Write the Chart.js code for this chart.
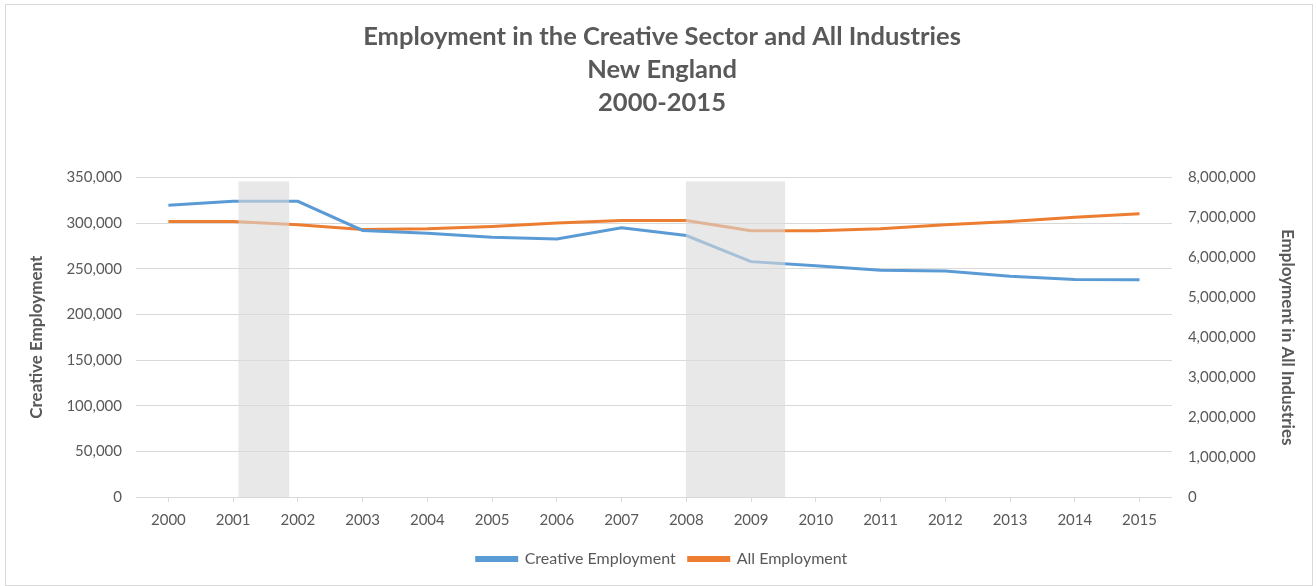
<!DOCTYPE html>
<html>
<head>
<meta charset="utf-8">
<script src="https://cdn.jsdelivr.net/npm/chart.js@4/dist/chart.umd.min.js"></script>
<style>
  body { margin: 0; background: #fff; }
  #wrap { position: absolute; left: 5px; top: 4px; width: 1306px; height: 580px; border: 1px solid #d9d9d9; }
</style>
</head>
<body>
<div id="wrap"><canvas id="chart"></canvas></div>
<script>
// data
const years = ['2000','2001','2002','2003','2004','2005','2006','2007','2008','2009','2010','2011','2012','2013','2014','2015'];
const creative = [319600, 323800, 323800, 292000, 289000, 284500, 282500, 294800, 286400, 257800, 253400, 248300, 247500, 241800, 238200, 238000];
const allEmp = [6900000, 6900000, 6815000, 6700000, 6715000, 6770000, 6860000, 6920000, 6920000, 6665000, 6665000, 6715000, 6815000, 6895000, 7005000, 7090000];
// recessions (fractional years)
const recStart = [2001.08, 2007.99];
const recEnd = [2001.87, 2009.53];
const shadeTop = 7900000;

const shade = [];
recStart.forEach((s, i) => {
  shade.push({ x: s, y: shadeTop });
  shade.push({ x: recEnd[i], y: shadeTop });
  if (i < recStart.length - 1) shade.push({ x: (recEnd[i] + recStart[i + 1]) / 2, y: null });
});

const grey = '#595959';
const font = 'Lato, "Open Sans", sans-serif';
const fmt = v => Number(v).toLocaleString('en-US');

new Chart(document.getElementById('chart'), {
  type: 'line',
  data: {
    labels: years,
    datasets: [
      {
        label: 'Recession',
        data: shade,
        xAxisID: 'xr',
        yAxisID: 'y2',
        fill: 'origin',
        backgroundColor: 'rgba(217,217,217,0.6)',
        borderColor: 'rgba(0,0,0,0)',
        borderWidth: 0,
        pointRadius: 0,
        spanGaps: false,
        order: 0
      },
      {
        label: 'Creative Employment',
        data: creative,
        yAxisID: 'y',
        borderColor: '#5b9bd5',
        backgroundColor: '#5b9bd5',
        borderWidth: 3,
        pointRadius: 0,
        tension: 0,
        order: 1
      },
      {
        label: 'All Employment',
        data: allEmp,
        yAxisID: 'y2',
        borderColor: '#ed7d31',
        backgroundColor: '#ed7d31',
        borderWidth: 3,
        pointRadius: 0,
        tension: 0,
        order: 1
      }
    ]
  },
  options: {
    responsive: true,
    maintainAspectRatio: false,
    animation: false,
    layout: { padding: { left: 14, right: 8, top: 8, bottom: 8 } },
    plugins: {
      title: {
        display: true,
        text: ['Employment in the Creative Sector and All Industries', 'New England', '2000-2015'],
        color: grey,
        font: { family: font, size: 25.5, weight: 'bold', lineHeight: 1.3 },
        padding: { top: 7, bottom: 58 }
      },
      legend: {
        position: 'bottom',
        labels: {
          filter: item => item.text !== 'Recession',
          color: grey,
          font: { family: font, size: 16 },
          boxWidth: 40,
          boxHeight: 3,
          padding: 13
        }
      },
      tooltip: { enabled: false }
    },
    scales: {
      x: {
        type: 'category',
        offset: true,
        grid: { drawOnChartArea: false, color: '#d9d9d9', tickLength: 5 },
        border: { color: '#d9d9d9' },
        ticks: { color: grey, font: { family: font, size: 15 }, padding: 9, maxRotation: 0 }
      },
      xr: {
        type: 'linear',
        min: 1999.5,
        max: 2015.5,
        display: false
      },
      y: {
        position: 'left',
        min: 0,
        max: 350000,
        ticks: { stepSize: 50000, color: grey, font: { family: font, size: 15 }, padding: 14, callback: fmt },
        grid: { color: '#d9d9d9', drawTicks: false },
        border: { display: false },
        title: { display: true, text: 'Creative Employment', color: grey, font: { family: font, size: 17, weight: 'bold' }, padding: 6 }
      },
      y2: {
        position: 'right',
        min: 0,
        max: 8000000,
        ticks: { stepSize: 1000000, color: grey, font: { family: font, size: 15 }, padding: 16, callback: fmt },
        grid: { drawOnChartArea: false, drawTicks: false },
        border: { display: false },
        title: { display: true, text: 'Employment in All Industries', color: grey, font: { family: font, size: 17, weight: 'bold' }, padding: 6 }
      }
    }
  }
});
</script>
</body>
</html>
